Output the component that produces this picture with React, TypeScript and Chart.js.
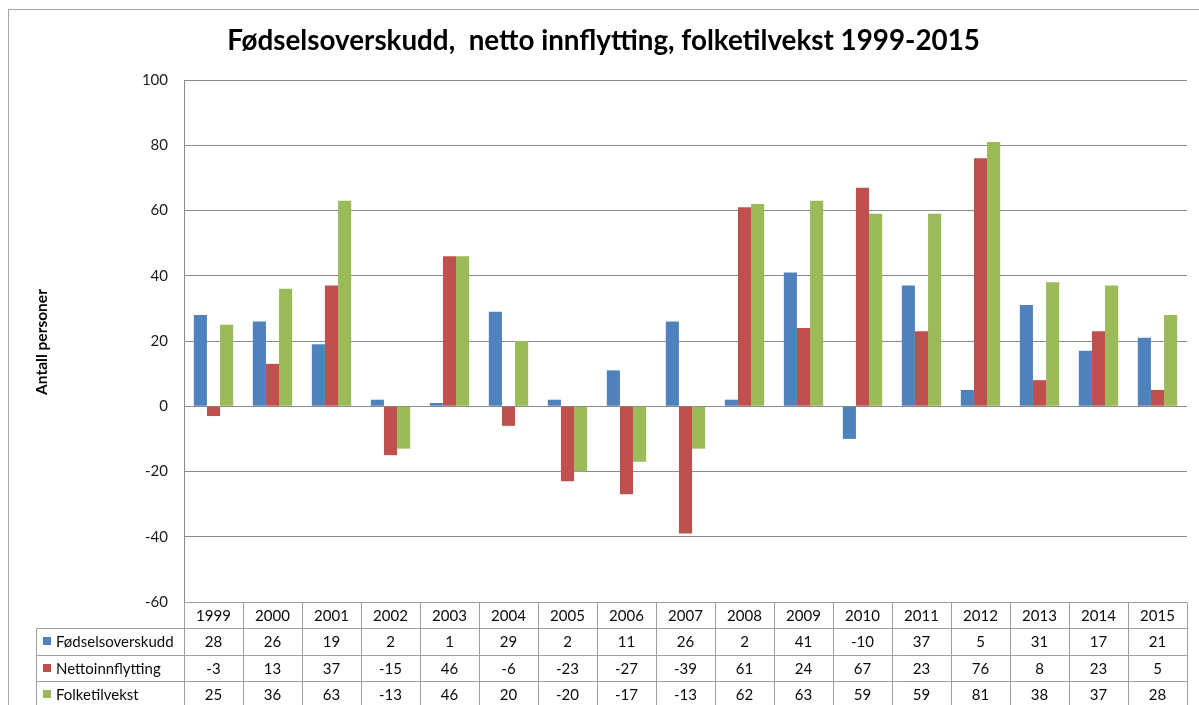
import React, { useEffect, useRef } from "react";
import { Chart, registerables } from "chart.js";

Chart.register(...registerables);

const years = ["1999", "2000", "2001", "2002", "2003", "2004", "2005", "2006", "2007", "2008", "2009", "2010", "2011", "2012", "2013", "2014", "2015"];
const fodselsoverskudd = [28, 26, 19, 2, 1, 29, 2, 11, 26, 2, 41, -10, 37, 5, 31, 17, 21];
const nettoinnflytting = [-3, 13, 37, -15, 46, -6, -23, -27, -39, 61, 24, 67, 23, 76, 8, 23, 5];
const folketilvekst = [25, 36, 63, -13, 46, 20, -20, -17, -13, 62, 63, 59, 59, 81, 38, 37, 28];
const seriesNames = ["Fødselsoverskudd", "Nettoinnflytting", "Folketilvekst"];
const seriesColors = ["#4F81BD", "#C0504D", "#9BBB59"];
const seriesValues = [fodselsoverskudd, nettoinnflytting, folketilvekst];
const yMin = -60;
const yMax = 100;
const yStep = 20;
const titleText = "Fødselsoverskudd,  netto innflytting, folketilvekst 1999-2015";
const yTitle = "Antall personer";

const FONT = "Lato, 'Open Sans', sans-serif";

const decorPlugin = {
  id: "decor",
  beforeDraw(chart: any) {
    const ctx = chart.ctx;
    ctx.save();
    ctx.fillStyle = "#ffffff";
    ctx.fillRect(0, 0, chart.width, chart.height);
    ctx.strokeStyle = "#a6a6a6";
    ctx.lineWidth = 1;
    ctx.strokeRect(8.5, 9.5, chart.width + 50, chart.height + 50);
    ctx.restore();
  },
  afterDraw(chart: any) {
    const ctx = chart.ctx;
    const area = chart.chartArea;
    ctx.save();
    // title
    ctx.fillStyle = "#000000";
    let size = 25;
    ctx.font = `bold ${size}px ${FONT}`;
    const w = ctx.measureText(titleText).width;
    size = size * 753 / w;
    ctx.font = `bold ${size}px ${FONT}`;
    ctx.textAlign = "center";
    ctx.textBaseline = "alphabetic";
    ctx.fillText(titleText, 603.5, 50);

    // y axis title
    ctx.save();
    ctx.translate(47, 342);
    ctx.rotate(-Math.PI / 2);
    ctx.font = `bold 15.5px ${FONT}`;
    ctx.textAlign = "center";
    ctx.textBaseline = "alphabetic";
    ctx.fillText(yTitle, 0, 0);
    ctx.restore();

    // data table
    const left = area.left;
    const right = area.right;
    const n = years.length;
    const colW = (right - left) / n;
    const rowH = 26.3;
    const top = area.bottom;
    const legendLeft = 36;
    const px = (v: number) => Math.round(v) + 0.5;
    ctx.strokeStyle = "#a0a0a0";
    ctx.lineWidth = 1;
    const line = (x1: number, y1: number, x2: number, y2: number) => {
      ctx.beginPath();
      ctx.moveTo(x1, y1);
      ctx.lineTo(x2, y2);
      ctx.stroke();
    };
    line(px(left), px(top), px(right), px(top));
    for (let r = 1; r <= 4; r++) {
      const y = px(top + r * rowH);
      line(px(legendLeft), y, px(right), y);
    }
    for (let k = 0; k <= n; k++) {
      const xk = px(left + k * colW);
      line(xk, px(top), xk, px(top + 4 * rowH));
    }
    line(px(legendLeft), px(top + rowH), px(legendLeft), px(top + 4 * rowH));

    ctx.fillStyle = "#0a0a0a";
    ctx.font = `15px ${FONT}`;
    ctx.textAlign = "center";
    ctx.textBaseline = "middle";
    for (let k = 0; k < n; k++) {
      const cx = chart.scales.x.getPixelForValue(k);
      ctx.fillText(years[k], cx, top + rowH / 2 + 1);
      for (let s = 0; s < seriesValues.length; s++) {
        ctx.fillText(String(seriesValues[s][k]), cx, top + (s + 1.5) * rowH + 1);
      }
    }
    ctx.textAlign = "left";
    for (let s = 0; s < seriesNames.length; s++) {
      const cy = top + (s + 1.5) * rowH;
      ctx.fillStyle = seriesColors[s];
      ctx.fillRect(43, Math.round(cy - 4), 8, 8);
      ctx.fillStyle = "#0a0a0a";
      ctx.fillText(seriesNames[s], 56, cy + 1);
    }
    ctx.restore();
  },
};

export default function App() {
  const ref = useRef<HTMLCanvasElement | null>(null);
  useEffect(() => {
    if (!ref.current) return;
    const chart = new Chart(ref.current, {
      type: "bar",
      data: {
        labels: years,
        datasets: seriesNames.map((name, i) => ({
          label: name,
          data: seriesValues[i],
          backgroundColor: seriesColors[i],
          borderWidth: 0,
          categoryPercentage: 0.667,
          barPercentage: 1.0,
        })),
      },
      options: {
        animation: false,
        responsive: false,
        devicePixelRatio: 1,
        layout: { padding: { left: 0, top: 80, right: 12, bottom: 103 } },
        plugins: {
          legend: { display: false },
          title: { display: false },
          tooltip: { enabled: false },
        },
        scales: {
          x: {
            display: false,
            offset: true,
            grid: { display: false },
          },
          y: {
            min: yMin,
            max: yMax,
            afterFit: (scale: any) => {
              scale.width = 184;
            },
            ticks: {
              stepSize: yStep,
              padding: 16,
              color: "#1a1a1a",
              font: { family: FONT, size: 15 },
            },
            grid: {
              color: "#8a8a8a",
              lineWidth: 1,
              drawTicks: false,
            },
            border: { display: true, color: "#8a8a8a", width: 1 },
          },
        },
      },
      plugins: [decorPlugin],
    });
    return () => chart.destroy();
  }, []);
  return (
    <div style={{ position: "fixed", left: 0, top: 0, width: 1199, height: 705, overflow: "hidden", background: "#fff" }}>
      <canvas ref={ref} width={1199} height={705} style={{ width: 1199, height: 705, display: "block" }} />
    </div>
  );
}
